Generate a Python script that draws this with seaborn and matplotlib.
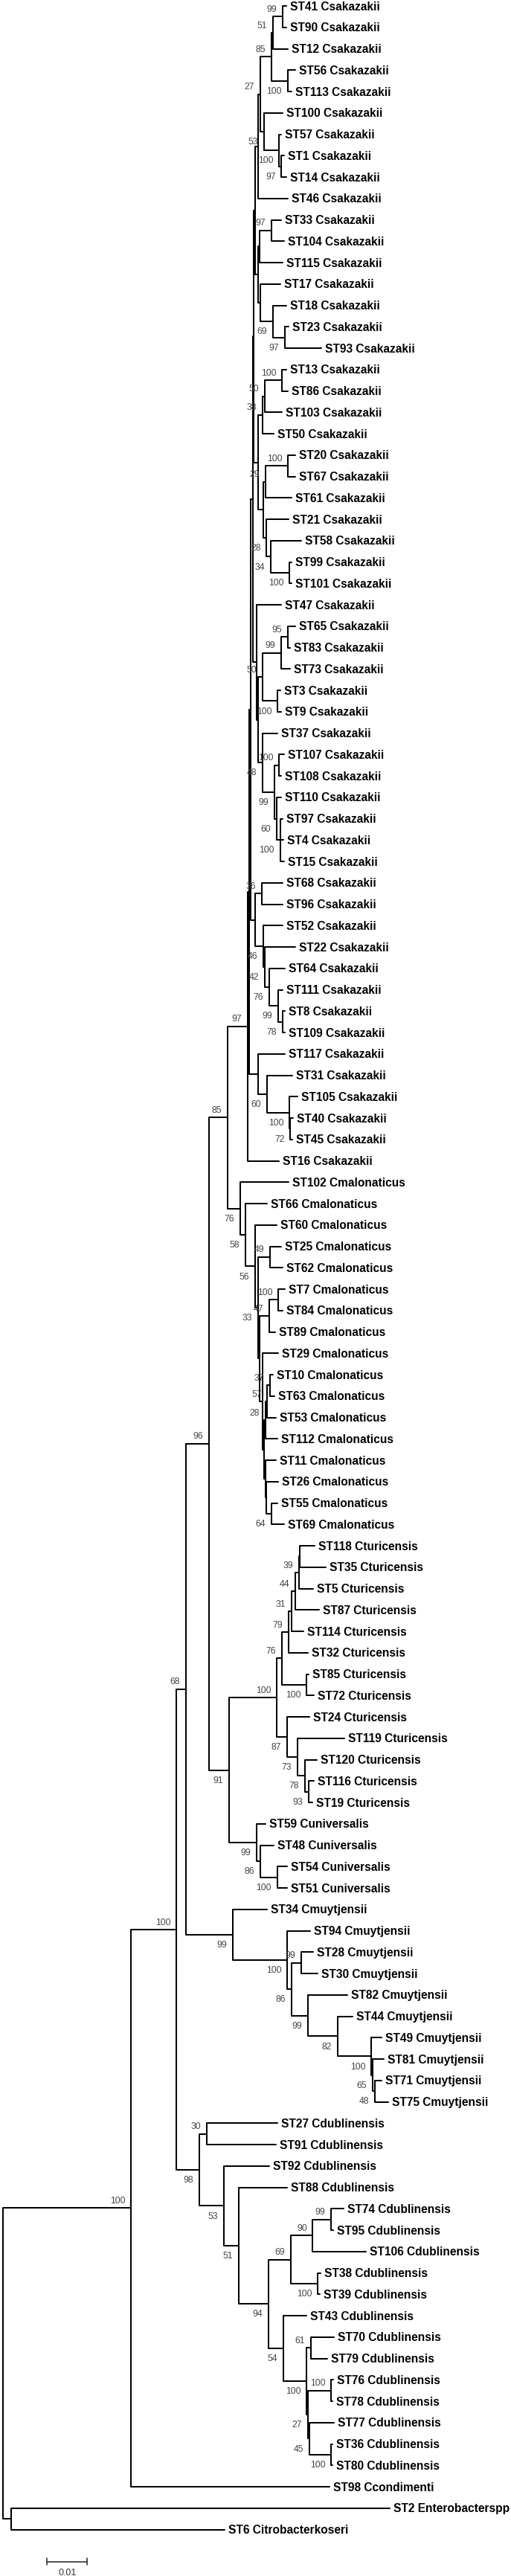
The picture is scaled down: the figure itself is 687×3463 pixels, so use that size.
import matplotlib
matplotlib.use('Agg')
import pandas as pd
import matplotlib.pyplot as plt
import seaborn as sns

# Branch lengths are in units of 0.001 substitutions/site, bootstrap values as node labels
sak_top = "((((((ST41_Csakazakii:0.93,ST90_Csakazakii:0.93)99:2.50,ST12_Csakazakii:3.74)51:0.28,(ST56_Csakazakii:1.85,ST113_Csakazakii:0.93)100:4.02)85:2.78,(ST100_Csakazakii:4.63,(ST57_Csakazakii:0.61,(ST1_Csakazakii:0.63,ST14_Csakazakii:1.24)97:0.61)100:3.70)53:0.93)27:0.56,ST46_Csakazakii:7.35):0.69,(((ST33_Csakazakii:2.46,ST104_Csakazakii:3.09)97:2.96,ST115_Csakazakii:5.74):0.43,(ST17_Csakazakii:4.94,(ST18_Csakazakii:3.33,(ST23_Csakazakii:0.93,ST93_Csakazakii:9.02)97:2.96)69:3.15):0.61):0.63)"
sak_mid = "((((ST13_Csakazakii:1.11,ST86_Csakazakii:1.43)100:4.26,ST103_Csakazakii:4.26)50:0.61,ST50_Csakazakii:2.83)38:1.11,(((ST20_Csakazakii:1.80,ST67_Csakazakii:1.80)100:5.56,ST61_Csakazakii:6.43)29:0.56,(ST21_Csakazakii:5.50,(ST58_Csakazakii:7.59,(ST99_Csakazakii:0.50,ST101_Csakazakii:0.50)100:4.69)34:1.06)28:0.80):1.35)"
sak_low = "(ST47_Csakazakii:6.07,((((ST65_Csakazakii:1.85,ST83_Csakazakii:0.61)95:1.56,ST73_Csakazakii:2.17)99:4.63,(ST3_Csakazakii:0.69,ST9_Csakazakii:0.93)100:3.65)50:1.17,(ST37_Csakazakii:3.70,((ST107_Csakazakii:1.24,ST108_Csakazakii:0.61)100:1.06,(ST110_Csakazakii:1.22,(ST97_Csakazakii:0.61,ST4_Csakazakii:0.74,ST15_Csakazakii:0.93)100:0.93)60:0.44)99:2.96)48:1.17):0.28)"
sak_bot = "((ST68_Csakazakii:5.19,ST96_Csakazakii:5.19)36:1.67,(ST52_Csakazakii:4.81,(ST22_Csakazakii:7.59,(ST64_Csakazakii:3.89,(ST111_Csakazakii:1.11,(ST8_Csakazakii:0.61,ST109_Csakazakii:0.61)78:1.11)99:2.22)76:1.11)42:0.37)46:2.04)"
sak_tail = "(ST117_Csakazakii:6.72,(ST31_Csakazakii:6.24,(ST105_Csakazakii:1.98,(ST40_Csakazakii:0.65,ST45_Csakazakii:0.46)72:0.22)100:5.61)60:2.22)"
sakazakii = f"((((({sak_top}:0.33,{sak_mid}:0.96):0.28,{sak_low}:1.02):0.46,{sak_bot}:1.02):0.37,{sak_tail}:2.13):0.46,ST16_Csakazakii:7.78)"

mal_a = "(ST25_Cmalonaticus:2.89,ST62_Cmalonaticus:3.20)"
mal_b = "((ST7_Cmalonaticus:1.72,ST84_Cmalonaticus:1.11)100:2.28,ST89_Cmalonaticus:1.54)"
mal_c = "(((ST10_Cmalonaticus:0.74,ST63_Cmalonaticus:1.22)37:0.63,ST53_Cmalonaticus:2.11)57:0.48,ST112_Cmalonaticus:3.07)"
mal_d = "(ST11_Cmalonaticus:2.54,(ST26_Cmalonaticus:2.91,(ST55_Cmalonaticus:1.54,ST69_Cmalonaticus:3.09)64:1.24):0.24)"
malonaticus = f"(ST102_Cmalonaticus:12.09,(ST66_Cmalonaticus:5.43,(ST60_Cmalonaticus:5.37,({mal_a}49:2.91,({mal_b}47:2.35,(ST29_Cmalonaticus:3.98,({mal_c}28:0.41,{mal_d}:0.46):0.37):0.65):0.37)33:0.80)56:2.35)58:1.30)"

tur_a = "(((((ST118_Cturicensis:3.70,ST35_Cturicensis:6.48):0.28,ST5_Cturicensis:3.52)39:0.93,ST87_Cturicensis:6.02)44:0.93,ST114_Cturicensis:2.96)31:0.65,ST32_Cturicensis:4.81)"
tur_b = "(ST24_Cturicensis:5.56,(ST119_Cturicensis:11.67,(ST120_Cturicensis:2.91,(ST116_Cturicensis:1.30,ST19_Cturicensis:1.02)93:0.93)78:1.85)73:2.59)"
turicensis = f"(({tur_a}79:1.67,(ST85_Cturicensis:0.56,ST72_Cturicensis:1.85)100:6.11)76:1.30,{tur_b}87:2.59)"

universalis = "(ST59_Cuniversalis:2.31,(ST48_Cuniversalis:3.24,(ST54_Cuniversalis:2.48,ST51_Cuniversalis:2.48)100:4.19)86:1.02)"

muy_a = "(ST82_Cmuytjensii:9.81,(ST44_Cmuytjensii:3.70,(ST49_Cmuytjensii:2.59,(ST81_Cmuytjensii:2.78,(ST71_Cmuytjensii:1.67,ST75_Cmuytjensii:3.33)48:0.56)65:0.37)100:8.33)82:7.41)"
muytjensii = f"(ST34_Cmuytjensii:8.52,(ST94_Cmuytjensii:5.74,((ST28_Cmuytjensii:2.87,ST30_Cmuytjensii:4.07)99:2.41,{muy_a}99:4.07)86:1.11)100:13.52)"

dub_a = "(((ST74_Cdublinensis:3.15,ST95_Cdublinensis:0.56)99:4.54,ST106_Cdublinensis:13.24)90:5.46,(ST38_Cdublinensis:0.74,ST39_Cdublinensis:0.56)100:6.67)"
dub_b = "((ST70_Cdublinensis:5.74,ST79_Cdublinensis:4.07)61:1.11,((ST76_Cdublinensis:0.56,ST78_Cdublinensis:0.37)100:5.74,(ST77_Cdublinensis:6.11,(ST36_Cdublinensis:0.37,ST80_Cdublinensis:0.37)100:5.37)45:0.37)27:0.37)"
dublinensis = f"((ST27_Cdublinensis:17.59,ST91_Cdublinensis:17.22)30:1.85,(ST92_Cdublinensis:11.30,(ST88_Cdublinensis:12.04,({dub_a}69:5.56,(ST43_Cdublinensis:5.74,{dub_b}100:5.74)54:3.70)94:7.41)51:3.70)53:6.11)"

full_tree = f"(((((({sakazakii}97:5.00,{malonaticus}76:3.15)85:4.63,({turicensis}100:11.94,{universalis}99:6.85)91:4.91)96:5.74,{muytjensii}99:11.67)68:2.41,{dublinensis}98:5.74)100:11.30,ST98_Ccondimenti:49.44)100:31.94,(ST2_Enterobacterspp:94.26,ST6_Citrobacterkoseri:53.15):2.13);"

scale_bar_start = 0.0111
scale_bar_length = 0.01
scale_bar_label = "0.01"


def parse_newick(text):
    pos = 0

    def read_node():
        nonlocal pos
        node = {'children': [], 'name': '', 'length': 0.0}
        if text[pos] == '(':
            pos += 1
            while True:
                node['children'].append(read_node())
                if text[pos] == ',':
                    pos += 1
                    continue
                pos += 1  # ')'
                break
        start = pos
        while text[pos] not in ':,);':
            pos += 1
        node['name'] = text[start:pos]
        if text[pos] == ':':
            pos += 1
            start = pos
            while text[pos] not in ',);':
                pos += 1
            node['length'] = float(text[start:pos])
        return node

    return read_node()


tree = parse_newick(full_tree)
leaves = []
nodes = []


def place(node, parent_x):
    node['x'] = parent_x + node['length'] * 1e-3
    nodes.append(node)
    if node['children']:
        for child in node['children']:
            child['parent'] = node
            place(child, node['x'])
        node['y'] = (node['children'][0]['y'] + node['children'][-1]['y']) / 2
    else:
        node['y'] = len(leaves)
        leaves.append(node)


place(tree, 0.0)
assert len(leaves) == 119

rows = []
for i, n in enumerate(nodes):
    p = n.get('parent')
    if p is None:
        continue
    rows += [(i, p['x'], p['y']), (i, p['x'], n['y']), (i, n['x'], n['y'])]
branches = pd.DataFrame(rows, columns=['branch', 'x', 'y'])

sns.set_theme(style='white')
plt.rcParams['font.family'] = ['Liberation Sans', 'DejaVu Sans']

fig = plt.figure(figsize=(6.87, 34.63), dpi=100)
ax = fig.add_axes([0, 0, 1, 1])

sns.lineplot(data=branches, x='x', y='y', units='branch', estimator=None, sort=False,
             color='black', linewidth=1.45, ax=ax, legend=False)

for leaf in leaves:
    ax.annotate(leaf['name'].replace('_', ' '), (leaf['x'], leaf['y']),
                xytext=(3.6, -4.0), textcoords='offset points',
                ha='left', va='baseline', fontsize=11.2, fontweight='bold', color='black')

for n in nodes:
    if n['children'] and n['name']:
        p = n.get('parent')
        upper = p is not None and p['children'][0] is n
        dy = 4.6 if upper else -12.4
        ax.annotate(n['name'], (n['x'], n['y']), xytext=(-5.6, dy), textcoords='offset points',
                    ha='right', va='baseline', fontsize=8.8, color='#454545')

# scale bar
bar_row = len(leaves) + 0.5
tick = 0.16
bar = pd.DataFrame({
    'part': [0, 0, 1, 1, 2, 2],
    'x': [scale_bar_start, scale_bar_start + scale_bar_length,
          scale_bar_start, scale_bar_start,
          scale_bar_start + scale_bar_length, scale_bar_start + scale_bar_length],
    'y': [bar_row, bar_row, bar_row - tick, bar_row + tick, bar_row - tick, bar_row + tick],
})
sns.lineplot(data=bar, x='x', y='y', units='part', estimator=None, sort=False,
             color='#222222', linewidth=1.1, ax=ax, legend=False)
ax.annotate(scale_bar_label, (scale_bar_start + scale_bar_length / 2, bar_row),
            xytext=(0, -13.3), textcoords='offset points', ha='center', va='baseline',
            fontsize=9, color='#333333')

ax.set_xlim(-3.5 / 5400, 683.5 / 5400)
ax.set_ylim((3463 - 8) / 28.75, -8 / 28.75)
ax.axis('off')

fig.savefig('out.png', dpi=100)
